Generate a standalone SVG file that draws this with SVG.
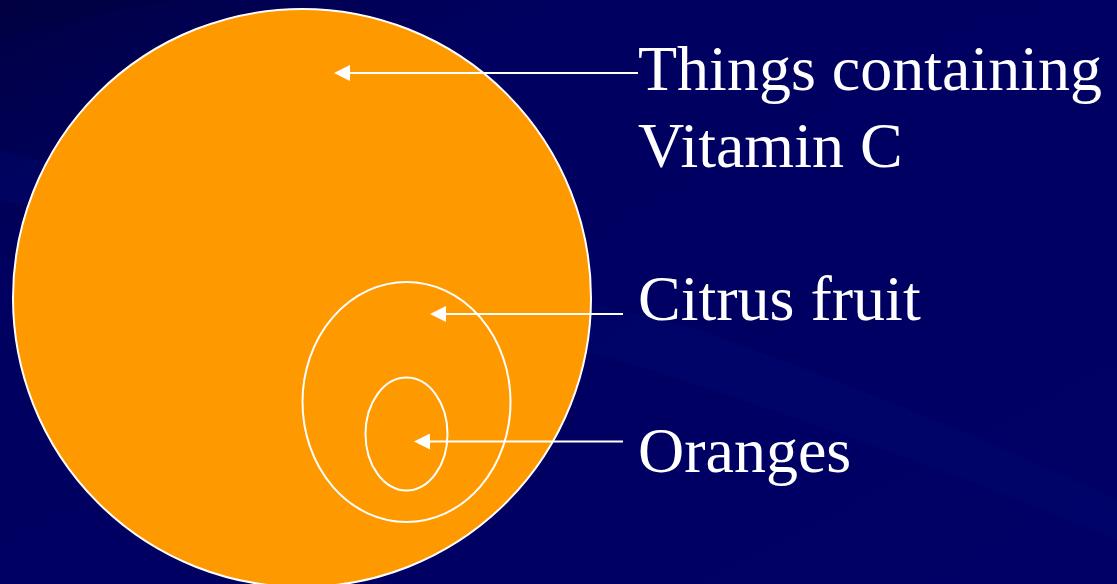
<svg xmlns="http://www.w3.org/2000/svg" width="1117" height="584" viewBox="0 0 1117 584">
<defs>
<linearGradient id="bg" x1="0" y1="0" x2="1" y2="1">
<stop offset="0" stop-color="#000045"/>
<stop offset="0.25" stop-color="#000060"/>
<stop offset="1" stop-color="#000066"/>
</linearGradient>
<marker id="ah" viewBox="0 0 16 16" refX="0" refY="8" markerWidth="16" markerHeight="16" markerUnits="userSpaceOnUse" orient="auto">
<path d="M16,8 L0,0 L0,16 Z" fill="#ffffff"/>
</marker>
<style>
.lbl{font-family:"Liberation Serif","Times New Roman",serif;font-size:64px;fill:#ffffff}
.set{fill:#ff9900;stroke:#ffffff;stroke-width:2}
.inner{fill:none;stroke:#ffffff;stroke-width:2}
.conn{stroke:#ffffff;stroke-width:2;fill:none}
</style>
</defs>
<rect width="1117" height="584" fill="url(#bg)"/>
<path d="M0,150 Q300,230 700,330 Q950,420 1117,500 L1117,540 Q900,450 650,370 Q300,270 0,200 Z" fill="#000a70" opacity="0.35"/>
<path d="M0,0 L180,0 Q100,10 0,40 Z" fill="#000040" opacity="0.5"/>
<g id="vitaminC">
<circle class="set" cx="302" cy="298" r="289"/>
</g>
<g id="citrus">
<ellipse class="inner" cx="406.5" cy="402" rx="104" ry="120"/>
</g>
<g id="oranges">
<ellipse class="inner" cx="406.5" cy="434" rx="41" ry="56.5"/>
</g>
<g id="connectors">
<line class="conn" x1="638" y1="73" x2="350" y2="73" marker-end="url(#ah)"/>
<line class="conn" x1="623" y1="314" x2="446" y2="314" marker-end="url(#ah)"/>
<line class="conn" x1="623" y1="441.5" x2="430" y2="441.5" marker-end="url(#ah)"/>
</g>
<g id="labels">
<text class="lbl" x="638" y="90">Things containing</text>
<text class="lbl" x="638" y="167">Vitamin C</text>
<text class="lbl" x="638" y="320">Citrus fruit</text>
<text class="lbl" x="638" y="472">Oranges</text>
</g>
</svg>
